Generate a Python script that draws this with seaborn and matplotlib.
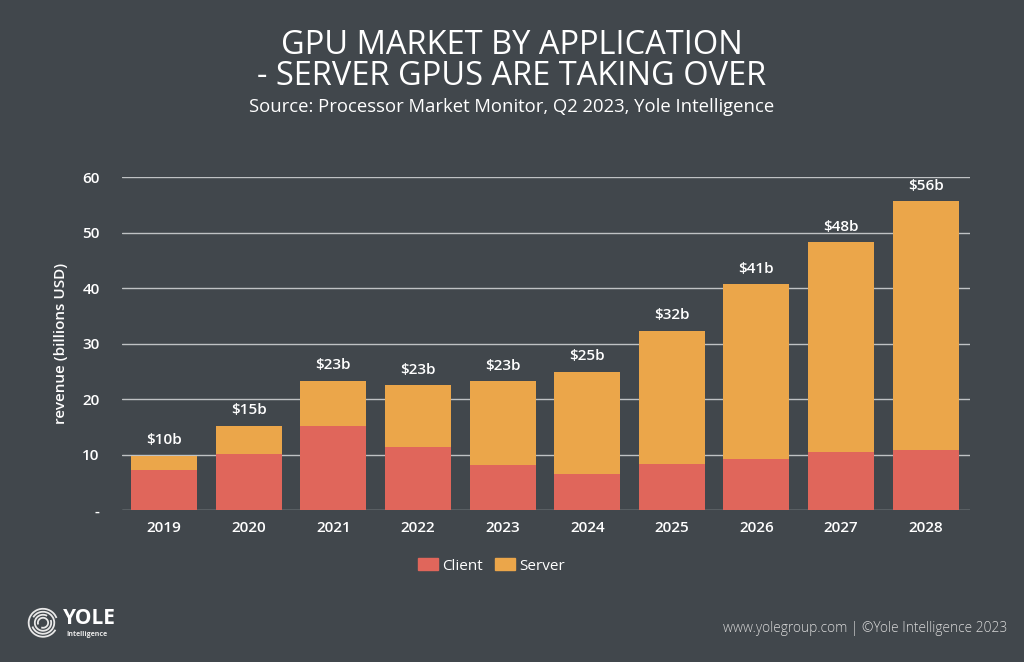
"""
GPU market by application - stacked bars, client vs server revenue
"""
import numpy as np
import pandas as pd
import seaborn as sns
import matplotlib.pyplot as plt
from matplotlib.patches import Rectangle, Arc

years = ['2019', '2020', '2021', '2022', '2023', '2024', '2025', '2026', '2027', '2028']
client = [7.2, 10.1, 15.2, 11.4, 8.1, 6.4, 8.2, 9.2, 10.4, 10.8]
server = [2.6, 5.1, 8.1, 11.1, 15.1, 18.5, 24.1, 31.5, 37.9, 44.9]
total_labels = ['$10b', '$15b', '$23b', '$23b', '$23b', '$25b', '$32b', '$41b', '$48b', '$56b']
yticks = [0, 10, 20, 30, 40, 50, 60]
ytick_labels = ['-', '10', '20', '30', '40', '50', '60']

bg = '#41474c'
c_client = '#e0665b'
c_server = '#eba64a'
fg = '#ffffff'

sns.set_theme(style='dark')
plt.rcParams['font.family'] = ['Open Sans', 'DejaVu Sans']

df = pd.DataFrame({'year': years, 'client': client, 'server': server})
df['total'] = df['client'] + df['server']

fig = plt.figure(figsize=(10.24, 6.62), dpi=100, facecolor=bg)
ax = fig.add_axes([0.119, 0.2296, 0.828, 0.503])
ax.set_facecolor(bg)

# total first (server colour), client on top of it from zero -> stacked look
sns.barplot(data=df, x='year', y='total', color=c_server, width=0.78,
            saturation=1, linewidth=0, ax=ax, zorder=3)
sns.barplot(data=df, x='year', y='client', color=c_client, width=0.78,
            saturation=1, linewidth=0, ax=ax, zorder=3)

for i, (t, lab) in enumerate(zip(df['total'], total_labels)):
    ax.text(i, t + 1.5, lab, ha='center', va='bottom', color=fg,
            fontsize=11, fontweight='semibold', clip_on=False)

ax.set_xlim(-0.5, 9.52)
ax.set_ylim(0, 60)
ax.set_yticks(yticks)
ax.set_yticklabels(ytick_labels)
ax.grid(axis='y', color='#bfc2c4', linewidth=1.0, zorder=0)
ax.grid(axis='x', visible=False)
for s in ax.spines.values():
    s.set_visible(False)
ax.tick_params(axis='both', length=0, colors=fg, labelsize=11)
ax.tick_params(axis='y', pad=16)
ax.tick_params(axis='x', pad=8)
for lab in ax.get_xticklabels() + ax.get_yticklabels():
    lab.set_fontweight('semibold')
ax.set_xlabel('')
ax.set_ylabel('revenue (billions USD)', color=fg, fontsize=11,
              fontweight='semibold', labelpad=10)

# legend
handles = [Rectangle((0, 0), 1, 1, color=c_client), Rectangle((0, 0), 1, 1, color=c_server)]
leg = fig.legend(handles, ['Client', 'Server'], loc='center', bbox_to_anchor=(0.48, 0.145),
                 ncol=2, frameon=False, handlelength=1.3, handleheight=0.8,
                 handletextpad=0.3, columnspacing=0.8, fontsize=11)
for t in leg.get_texts():
    t.set_color(fg)

# titles
fig.text(0.5, 0.932, 'GPU MARKET BY APPLICATION', ha='center', va='center',
         color=fg, fontsize=23.5)
fig.text(0.5, 0.884, '- SERVER GPUS ARE TAKING OVER', ha='center', va='center',
         color=fg, fontsize=23.5)
fig.text(0.5, 0.839, 'Source: Processor Market Monitor, Q2 2023, Yole Intelligence',
         ha='center', va='center', color=fg, fontsize=13.3)

# footer
fig.text(0.984, 0.051, 'www.yolegroup.com | \u00a9Yole Intelligence 2023', ha='right',
         va='center', color='#d8d8d8', fontsize=9.9, fontweight='light')

# logo
lax = fig.add_axes([0.025, 0.02, 0.09, 0.08])
lax.set_xlim(0, 90)
lax.set_ylim(0, 53)
lax.axis('off')
for r, a1, a2 in [(14, 20, 330), (11, 200, 150), (8, 60, 20), (5, 250, 200)]:
    lax.add_patch(Arc((17, 26), 2 * r, 2 * r, theta1=a1, theta2=a2, color='#e8e8e8', lw=1.3))
lax.text(36, 30, 'YOLE', color=fg, fontsize=15, fontweight='bold', va='center')
lax.text(40, 14, 'Intelligence', color='#e8e8e8', fontsize=5, fontweight='bold', va='center')

fig.savefig('out.png', dpi=100, facecolor=bg)
